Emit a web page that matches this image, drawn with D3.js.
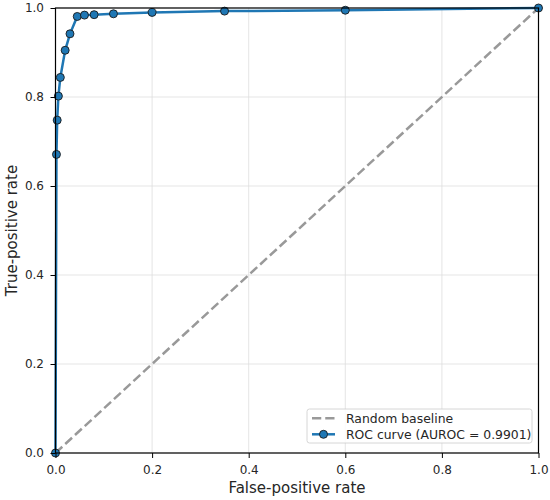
<!DOCTYPE html>
<html lang="en">
<meta charset="utf-8"/>
<head>
<style>
  body { margin: 0; background: #fff; }
  text { font-family: "DejaVu Sans", sans-serif; }
</style>
<script src="https://d3js.org/d3.v7.min.js"></script>
</head>
<body>
<svg id="container" width="550" height="500"></svg>

<script>
// ROC points
let fpr = [0, 0.002, 0.0035, 0.006, 0.01, 0.02, 0.03, 0.045, 0.06, 0.08, 0.12, 0.2, 0.35, 0.6, 1.0]
let tpr = [0, 0.671, 0.748, 0.802, 0.844, 0.905, 0.942, 0.981, 0.984, 0.985, 0.987, 0.990, 0.993, 0.995, 1.0]
let baseline = [[0, 0], [1, 1]]
let ticks = [0, 0.2, 0.4, 0.6, 0.8, 1.0]
let legendLabels = ["Random baseline", "ROC curve (AUROC = 0.9901)"]

let plotLeft = 55.5, plotRight = 538.5, plotTop = 8, plotBottom = 453
let blue = "#1f77b4"

let svg = d3.select("svg")

let x = d3.scaleLinear().domain([0, 1]).range([plotLeft, plotRight])
let y = d3.scaleLinear().domain([0, 1]).range([plotBottom, plotTop])

// grid
let grid = svg.append("g")
grid.selectAll(".gx").data(ticks).enter().append("line")
    .attr("x1", d => x(d)).attr("x2", d => x(d))
    .attr("y1", plotTop).attr("y2", plotBottom)
    .attr("stroke", "#dedede").attr("stroke-width", 0.8)
grid.selectAll(".gy").data(ticks).enter().append("line")
    .attr("y1", d => y(d)).attr("y2", d => y(d))
    .attr("x1", plotLeft).attr("x2", plotRight)
    .attr("stroke", "#dedede").attr("stroke-width", 0.8)

// clip so lines stay near the frame like matplotlib
svg.append("clipPath").attr("id", "clip")
   .append("rect").attr("x", plotLeft - 6).attr("y", plotTop - 6)
   .attr("width", plotRight - plotLeft + 12).attr("height", plotBottom - plotTop + 12)

let plot = svg.append("g").attr("clip-path", "url(#clip)")

let line = d3.line().x(d => x(d[0])).y(d => y(d[1]))

plot.append("path")
    .datum(baseline)
    .attr("d", line)
    .attr("fill", "none")
    .attr("stroke", "#999999")
    .attr("stroke-width", 2.5)
    .attr("stroke-dasharray", "9.25,4")

let roc = fpr.map((f, i) => [f, tpr[i]])

plot.append("path")
    .datum(roc)
    .attr("d", line)
    .attr("fill", "none")
    .attr("stroke", blue)
    .attr("stroke-width", 2.5)

plot.selectAll("circle").data(roc).enter().append("circle")
    .attr("cx", d => x(d[0]))
    .attr("cy", d => y(d[1]))
    .attr("r", 4)
    .attr("fill", blue)
    .attr("stroke", "#1a1a1a")
    .attr("stroke-width", 0.9)

// axes
let xAxis = svg.append("g")
    .attr("transform", "translate(0," + plotBottom + ")")
    .call(d3.axisBottom(x).tickValues(ticks).tickFormat(d3.format(".1f")).tickSize(5).tickPadding(7))
let yAxis = svg.append("g")
    .attr("transform", "translate(" + plotLeft + ",0)")
    .call(d3.axisLeft(y).tickValues(ticks).tickFormat(d3.format(".1f")).tickSize(5).tickPadding(6.5))

for (let ax of [xAxis, yAxis]) {
    ax.select(".domain").remove()
    ax.selectAll("line").attr("stroke", "#000").attr("stroke-width", 1)
    ax.selectAll("text").attr("font-size", 12).attr("fill", "#262626")
        .attr("font-family", "DejaVu Sans")
}

// frame
svg.append("rect")
    .attr("x", plotLeft).attr("y", plotTop)
    .attr("width", plotRight - plotLeft).attr("height", plotBottom - plotTop)
    .attr("fill", "none").attr("stroke", "#000").attr("stroke-width", 1.2)

// axis labels
svg.append("text")
    .attr("x", (plotLeft + plotRight) / 2).attr("y", 493)
    .attr("text-anchor", "middle").attr("font-size", 15).attr("fill", "#262626")
    .text("False-positive rate")
svg.append("text")
    .attr("transform", "translate(16.5," + (plotTop + plotBottom) / 2 + ") rotate(-90)")
    .attr("text-anchor", "middle").attr("font-size", 15).attr("fill", "#262626")
    .text("True-positive rate")

// legend
let lg = svg.append("g").attr("transform", "translate(307,409)")
lg.append("rect")
    .attr("width", 225).attr("height", 34).attr("rx", 2.5)
    .attr("fill", "white").attr("fill-opacity", 0.85)
    .attr("stroke", "#cccccc").attr("stroke-width", 0.8)

let items = lg.selectAll(".item").data(legendLabels).enter().append("g")
    .attr("transform", (d, i) => "translate(0," + (9.3 + i * 16) + ")")

items.append("line")
    .attr("x1", 5).attr("x2", 28).attr("y1", 0).attr("y2", 0)
    .attr("stroke", (d, i) => i == 0 ? "#999999" : blue)
    .attr("stroke-width", 2.5)
    .attr("stroke-dasharray", (d, i) => i == 0 ? "9.25,4" : null)

items.filter((d, i) => i == 1).append("circle")
    .attr("cx", 16.5).attr("cy", 0).attr("r", 4)
    .attr("fill", blue).attr("stroke", "#1a1a1a").attr("stroke-width", 0.9)

items.append("text")
    .attr("x", 39).attr("y", 4.5)
    .attr("font-size", 12.4).attr("fill", "#262626")
    .text(d => d)
</script>
</body>
</html>
